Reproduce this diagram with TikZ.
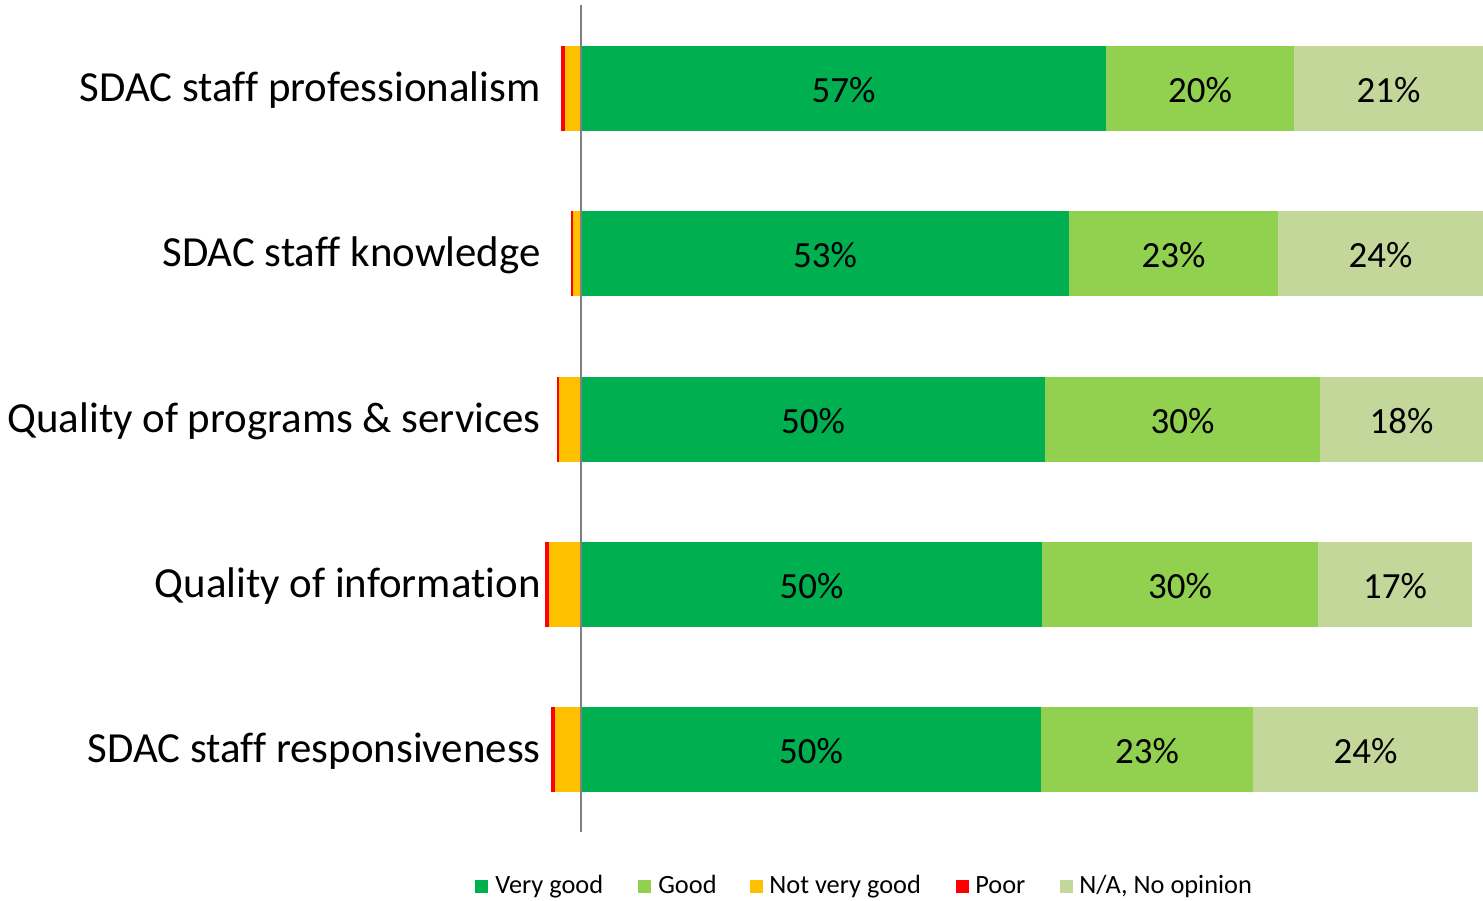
\documentclass[tikz,border=0pt]{standalone}
\usepackage{fontspec}
\setmainfont{Carlito}[Ligatures=NoCommon]
\usetikzlibrary{positioning}
\definecolor{vgood}{HTML}{00B050}
\definecolor{good}{HTML}{92D050}
\definecolor{notgood}{HTML}{FFC000}
\definecolor{poor}{HTML}{FF0000}
\definecolor{noop}{HTML}{C4D79B}
\begin{document}
\begin{tikzpicture}[x=0.02cm,y=-0.02cm,
        rowlabel/.style={anchor=east,inner sep=0pt,font=\fontsize{24.4}{28}\selectfont},
        pct/.style={inner sep=0pt,font=\fontsize{21}{25}\selectfont},
        legkey/.style={minimum size=13*0.02cm,inner sep=0pt},
        legtext/.style={inner sep=0pt,anchor=base west,font=\fontsize{15}{17}\selectfont}]
    \useasboundingbox (0,0) rectangle (1483,900);
    %% bars, one row each
    \foreach \n/\yt/\xr/\xy/\xg/\xgd/\xna/\lab/\pa/\pb/\pc in {
        1/46/561/565/1106/1294/1483/SDAC staff professionalism/57/20/21,
        2/211/571/573/1069/1278/1483/SDAC staff knowledge/53/23/24,
        3/377/557/559/1045/1320/1483/Quality of programs \& services/50/30/18,
        4/542/545/549/1042/1318/1472/Quality of information/50/30/17,
        5/707/551/555/1041/1253/1478/SDAC staff responsiveness/50/23/24} {
        \fill[poor] (\xr,\yt) rectangle (\xy,\yt+85);
        \fill[notgood] (\xy,\yt) rectangle (581,\yt+85);
        \fill[vgood] (581,\yt) rectangle (\xg,\yt+85);
        \fill[good] (\xg,\yt) rectangle (\xgd,\yt+85);
        \fill[noop] (\xgd,\yt) rectangle (\xna,\yt+85);
        \node[rowlabel] (lab-\n) at (541,\yt+44) {\lab};
        \node[pct] (vg-\n) at ({(581+\xg)/2},\yt+44) {\pa\%};
        \node[pct] (g-\n) at ({(\xg+\xgd)/2},\yt+44) {\pb\%};
        \node[pct] (na-\n) at ({(\xgd+\xna)/2},\yt+44) {\pc\%};
    }
    %% axis
    \coordinate (top) at (581,5);
    \coordinate (bot) at (581,832);
    \draw[gray,line width=1.1pt] (top) -- (bot);
    %% legend
    \node[legkey,fill=vgood] (k1) at (481,886) {};
    \node[legtext] (t1) at (495,893) {Very good};
    \node[legkey,fill=good] (k2) at (644,886) {};
    \node[legtext] (t2) at (658,893) {Good};
    \node[legkey,fill=notgood] (k3) at (756,886) {};
    \node[legtext] (t3) at (769,893) {Not very good};
    \node[legkey,fill=poor] (k4) at (962,886) {};
    \node[legtext] (t4) at (975,893) {Poor};
    \node[legkey,fill=noop] (k5) at (1066,886) {};
    \node[legtext] (t5) at (1079,893) {N/A, No opinion};
\end{tikzpicture}
\end{document}
